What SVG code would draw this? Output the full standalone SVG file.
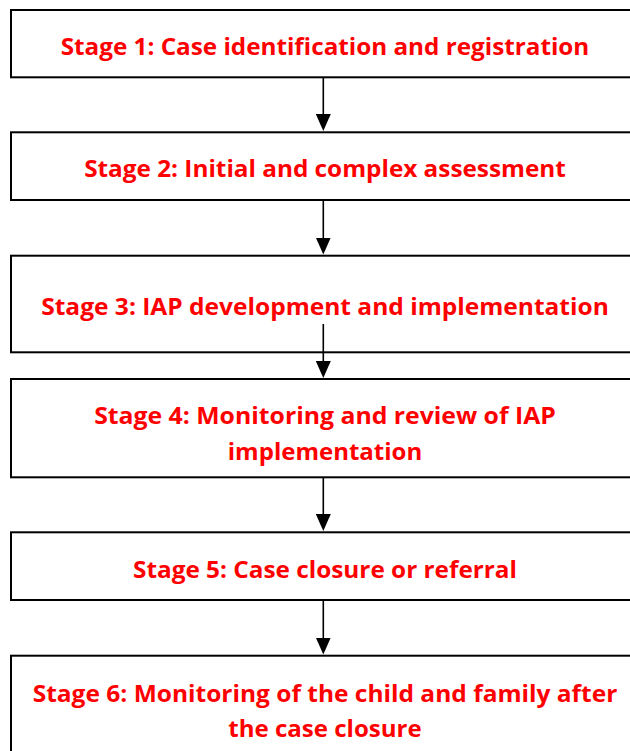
<svg xmlns="http://www.w3.org/2000/svg" width="630" height="751" viewBox="0 0 630 751">
  <defs>
    <marker id="arrow" viewBox="0 0 17 15" refX="7" refY="7.5" markerWidth="17" markerHeight="15" markerUnits="userSpaceOnUse" orient="auto">
      <path d="M0,0 L17,7.5 L0,15 Z" fill="#000"/>
    </marker>
  </defs>
  <style>
    .box { fill: #fff; stroke: #000; stroke-width: 2; }
    .lbl { font-family: "Open Sans", "Liberation Sans", sans-serif; font-weight: bold; font-size: 24px; fill: #ff0000; text-anchor: middle; }
    .conn { stroke: #000; stroke-width: 1.6; fill: none; marker-end: url(#arrow); }
  </style>
  <rect width="630" height="751" fill="#fff"/>

  <g id="stage1">
    <rect class="box" x="11" y="10" width="640" height="67.3"/>
    <text class="lbl" x="325" y="55" textLength="528.6" lengthAdjust="spacingAndGlyphs">Stage 1: Case identification and registration</text>
  </g>
  <g id="stage2">
    <rect class="box" x="11" y="132.3" width="640" height="67.7"/>
    <text class="lbl" x="325" y="176.7" textLength="481.7" lengthAdjust="spacingAndGlyphs">Stage 2: Initial and complex assessment</text>
  </g>
  <g id="stage3">
    <rect class="box" x="11" y="255.7" width="640" height="96.6"/>
    <text class="lbl" x="325" y="315" textLength="567.6" lengthAdjust="spacingAndGlyphs">Stage 3: IAP development and implementation</text>
  </g>
  <g id="stage4">
    <rect class="box" x="11" y="379" width="640" height="98.3"/>
    <text class="lbl" x="325" y="424.3" textLength="461.7" lengthAdjust="spacingAndGlyphs">Stage 4: Monitoring and review of IAP</text>
    <text class="lbl" x="325" y="460" textLength="194.4" lengthAdjust="spacingAndGlyphs">implementation</text>
  </g>
  <g id="stage5">
    <rect class="box" x="11" y="532.3" width="640" height="67.7"/>
    <text class="lbl" x="325" y="577.7" textLength="384" lengthAdjust="spacingAndGlyphs">Stage 5: Case closure or referral</text>
  </g>
  <g id="stage6">
    <rect class="box" x="11" y="655.7" width="640" height="120"/>
    <text class="lbl" x="325" y="701.7" textLength="584.6" lengthAdjust="spacingAndGlyphs">Stage 6: Monitoring of the child and family after</text>
    <text class="lbl" x="325" y="736.7" textLength="193.4" lengthAdjust="spacingAndGlyphs">the case closure</text>
  </g>

  <g id="connectors">
    <line class="conn" x1="323.3" y1="77.3" x2="323.3" y2="121"/>
    <line class="conn" x1="323.3" y1="200" x2="323.3" y2="244.5"/>
    <line class="conn" x1="323.3" y1="324" x2="323.3" y2="368"/>
    <line class="conn" x1="323.3" y1="477.3" x2="323.3" y2="521"/>
    <line class="conn" x1="323.3" y1="600" x2="323.3" y2="644.5"/>
  </g>
</svg>
